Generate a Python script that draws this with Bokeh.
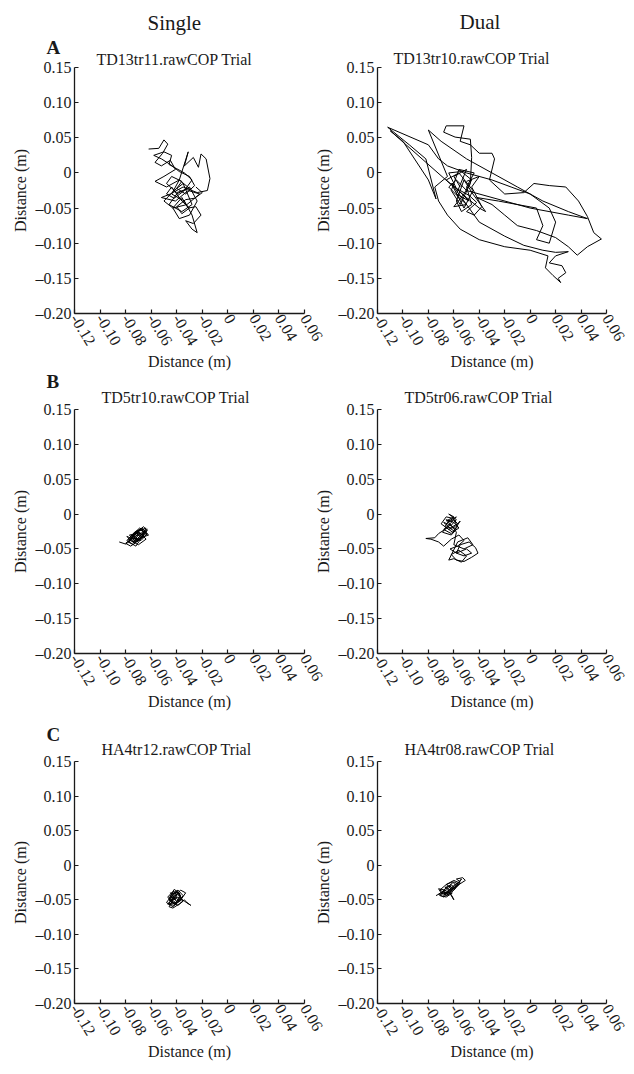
from bokeh.plotting import figure
from bokeh.models import Range1d, FixedTicker, Title
from bokeh.layouts import column, row
from bokeh.embed import file_html
from bokeh.resources import INLINE

FONT = "Liberation Serif"
INK = "#1a1a1a"

# ---------------- data ----------------
x_ticks = [-0.12, -0.10, -0.08, -0.06, -0.04, -0.02, 0.0, 0.02, 0.04, 0.06]
x_tick_labels = ["-0.12", "-0.10", "-0.08", "-0.06", "-0.04", "-0.02", "0", "0.02", "0.04", "0.06"]
y_ticks = [-0.20, -0.15, -0.10, -0.05, 0.0, 0.05, 0.10, 0.15]
y_tick_labels = ["–0.20", "–0.15", "–0.10", "–0.05", "0", "0.05", "0.10", "0.15"]
x_range_limits = [-0.12, 0.06]
y_range_limits = [-0.20, 0.15]

column_headers = ["Single", "Dual"]
row_letters = ["A", "B", "C"]
trial_titles = [
    ["TD13tr11.rawCOP Trial", "TD13tr10.rawCOP Trial"],
    ["TD5tr10.rawCOP Trial", "TD5tr06.rawCOP Trial"],
    ["HA4tr12.rawCOP Trial", "HA4tr08.rawCOP Trial"],
]
axis_title = "Distance (m)"

# Row A, single task (TD13tr11)
a_single_x = [-0.062, -0.054, -0.050, -0.047, -0.051, -0.057, -0.052, -0.045, -0.041, -0.050,
              -0.057, -0.048, -0.038, -0.031, -0.034, -0.027, -0.023, -0.021, -0.017, -0.014,
              -0.016, -0.024, -0.035, -0.045, -0.052, -0.041, -0.031, -0.022, -0.032, -0.043,
              -0.050, -0.042, -0.035, -0.028, -0.036, -0.046, -0.040, -0.030, -0.024, -0.030,
              -0.038, -0.043, -0.036, -0.031, -0.025, -0.021, -0.027, -0.033, -0.028, -0.024,
              -0.028, -0.034, -0.044, -0.038, -0.030,
              -0.040, -0.048, -0.044, -0.036, -0.040, -0.033, -0.026, -0.030, -0.038, -0.045,
              -0.052, -0.058, -0.050, -0.044, -0.046, -0.040, -0.034, -0.028, -0.034, -0.042,
              -0.048, -0.044, -0.036, -0.030, -0.036, -0.040, -0.033, -0.026, -0.020, -0.025]
a_single_y = [0.034, 0.035, 0.047, 0.041, 0.028, 0.015, 0.010, 0.018, 0.005, -0.005,
              -0.012, -0.020, -0.010, 0.030, 0.010, 0.022, 0.008, 0.027, 0.020, -0.008,
              -0.025, -0.028, -0.020, -0.030, -0.035, -0.040, -0.025, -0.030, -0.045, -0.050,
              -0.040, -0.025, -0.015, -0.045, -0.055, -0.045, -0.030, -0.020, -0.040, -0.060,
              -0.065, -0.050, -0.035, -0.050, -0.048, -0.060, -0.072, -0.068, -0.080, -0.085,
              -0.060, -0.040, -0.030, -0.010, -0.022,
              -0.028, -0.015, -0.005, -0.012, -0.022, -0.030, -0.018, -0.005, 0.002, 0.012,
              0.020, 0.025, 0.030, 0.025, 0.012, 0.006, 0.000, -0.010, -0.025, -0.036,
              -0.030, -0.020, -0.040, -0.050, -0.058, -0.048, -0.038, -0.036, -0.028, -0.020]

# Row A, dual task (TD13tr10)
a_dual_x = [-0.055, -0.060, -0.050, -0.058, -0.048, -0.062, -0.052, -0.045, -0.056, -0.066, -0.050, -0.040,
            -0.035, -0.045, -0.052, -0.058, -0.054, -0.046, -0.050, -0.044, -0.056, -0.062, -0.055, -0.047,
            -0.046, -0.047, -0.059, -0.068, -0.066, -0.052, -0.055, -0.047, -0.040, -0.030, -0.028, -0.032,
            -0.020, -0.005, 0.003, 0.015, 0.028, 0.038, 0.045, 0.050, 0.056, 0.045, 0.037, 0.030, 0.020,
            0.005, -0.010, -0.020, -0.030, -0.042,
            -0.025, -0.010, 0.005, 0.010, 0.005, 0.015, 0.020, 0.015, 0.000, -0.015, -0.030,
            -0.050, -0.065, -0.072, -0.080, -0.112, -0.095, -0.082, -0.074, -0.080, -0.100, -0.110, -0.085,
            -0.060, -0.040, -0.020, -0.005,
            0.010, 0.020, 0.030, 0.020, 0.015, 0.025, 0.028, 0.022, 0.024, 0.018, 0.012, 0.014, 0.000,
            -0.020, -0.040, -0.055, -0.065, -0.072,
            -0.075, -0.065, -0.080, -0.070, -0.050, -0.030, -0.010, 0.010, 0.030, 0.045, 0.030, 0.000,
            -0.030, -0.050,
            -0.058, -0.064, -0.056, -0.050, -0.060, -0.052, -0.046, -0.054, -0.064, -0.058, -0.048, -0.042,
            -0.050, -0.044, -0.038, -0.046, -0.040, -0.050]
a_dual_y = [-0.020, -0.005, 0.005, -0.030, -0.040, -0.015, -0.050, -0.025, 0.000, -0.010, -0.035, -0.050,
            -0.055, -0.030, -0.010, -0.040, -0.055, -0.045, -0.020, 0.000, 0.005, -0.025, -0.045, -0.015,
            0.022, 0.048, 0.051, 0.058, 0.067, 0.067, 0.045, 0.040, 0.028, 0.028, 0.020, -0.010,
            -0.030, -0.028, -0.015, -0.018, -0.020, -0.040, -0.062, -0.085, -0.094, -0.105, -0.117, -0.105, -0.092,
            -0.082, -0.075, -0.060, -0.045, -0.035,
            -0.040, -0.045, -0.050, -0.075, -0.095, -0.100, -0.070, -0.050, -0.030, -0.020, -0.010,
            0.000, 0.010, 0.020, 0.040, 0.065, 0.040, 0.020, -0.037, -0.010, 0.045, 0.060, 0.020,
            -0.020, -0.070, -0.090, -0.103,
            -0.110, -0.113, -0.112, -0.118, -0.128, -0.132, -0.142, -0.150, -0.156, -0.146, -0.135, -0.118, -0.110,
            -0.105, -0.095, -0.080, -0.060, -0.040,
            -0.020, -0.005, 0.061, 0.045, 0.020, 0.000, -0.020, -0.040, -0.055, -0.065, -0.060, -0.050,
            -0.035, -0.025,
            -0.010, -0.020, -0.035, -0.045, -0.048, -0.030, -0.010, 0.002, 0.000, -0.022, -0.032, -0.042,
            -0.055, -0.060, -0.048, -0.020, -0.005, -0.012]

# Row B, single task (TD5tr10)
b_single_x = [-0.085, -0.080, -0.076, -0.079, -0.074, -0.070, -0.077, -0.072, -0.066, -0.071,
              -0.075, -0.068, -0.063, -0.067, -0.073, -0.078, -0.070, -0.064, -0.069, -0.075,
              -0.071, -0.065, -0.062, -0.068, -0.074, -0.079, -0.072, -0.066, -0.070, -0.076,
              -0.069, -0.064, -0.067, -0.073, -0.077, -0.071, -0.066, -0.063, -0.069, -0.074,
              -0.078, -0.073, -0.068, -0.065, -0.070, -0.076, -0.080, -0.075, -0.070, -0.066,
              -0.072, -0.068, -0.074, -0.070, -0.065, -0.069, -0.075, -0.071, -0.067, -0.063,
              -0.068, -0.073, -0.077, -0.072, -0.068, -0.064, -0.069, -0.074, -0.071, -0.067]
b_single_y = [-0.040, -0.043, -0.038, -0.032, -0.036, -0.028, -0.030, -0.040, -0.032, -0.024,
              -0.034, -0.038, -0.028, -0.020, -0.026, -0.036, -0.044, -0.036, -0.026, -0.030,
              -0.038, -0.032, -0.030, -0.022, -0.028, -0.038, -0.046, -0.030, -0.030, -0.034,
              -0.024, -0.020, -0.032, -0.042, -0.036, -0.026, -0.018, -0.024, -0.034, -0.044,
              -0.040, -0.030, -0.022, -0.028, -0.038, -0.046, -0.042, -0.034, -0.036, -0.030,
              -0.026, -0.034, -0.040, -0.030, -0.024, -0.020, -0.030, -0.036, -0.028, -0.022,
              -0.030, -0.040, -0.034, -0.026, -0.034, -0.028, -0.022, -0.032, -0.040, -0.032]

# Row B, dual task (TD5tr06)
b_dual_x = [-0.066, -0.060, -0.064, -0.058, -0.062, -0.068, -0.063, -0.057, -0.061, -0.066,
            -0.070, -0.064, -0.059, -0.055, -0.060, -0.065, -0.069, -0.062, -0.058, -0.063,
            -0.067, -0.072, -0.075, -0.082, -0.078, -0.072, -0.068, -0.062, -0.056, -0.052,
            -0.057, -0.063, -0.058, -0.050, -0.046, -0.052, -0.058, -0.055, -0.048, -0.043,
            -0.041, -0.046, -0.052, -0.058, -0.062, -0.056, -0.050, -0.054, -0.060, -0.064,
            -0.057, -0.049, -0.045, -0.052, -0.060, -0.058,
            -0.062, -0.066, -0.060, -0.056, -0.061, -0.067, -0.064, -0.058, -0.063, -0.068,
            -0.062, -0.057, -0.060, -0.065]
b_dual_y = [-0.010, -0.004, 0.000, -0.008, -0.016, -0.012, -0.020, -0.014, -0.006, -0.004,
            -0.014, -0.022, -0.018, -0.010, -0.024, -0.018, -0.026, -0.030, -0.022, -0.016,
            -0.022, -0.028, -0.034, -0.035, -0.036, -0.040, -0.046, -0.036, -0.030, -0.038,
            -0.046, -0.050, -0.056, -0.050, -0.056, -0.060, -0.056, -0.044, -0.040, -0.048,
            -0.056, -0.062, -0.068, -0.066, -0.058, -0.052, -0.060, -0.069, -0.064, -0.066,
            -0.040, -0.034, -0.044, -0.050, -0.044, -0.026,
            -0.016, -0.008, -0.012, -0.020, -0.026, -0.018, -0.010, -0.004, -0.014, -0.022,
            -0.028, -0.018, -0.008, -0.012]

# Row C, single task (HA4tr12)
c_single_x = [-0.046, -0.042, -0.045, -0.040, -0.043, -0.047, -0.041, -0.037, -0.040, -0.044,
              -0.048, -0.043, -0.038, -0.035, -0.039, -0.044, -0.046, -0.041, -0.036, -0.038,
              -0.042, -0.045, -0.040, -0.036, -0.033, -0.037, -0.041, -0.046, -0.043, -0.038,
              -0.034, -0.032, -0.029, -0.034, -0.039, -0.044, -0.047, -0.042, -0.037, -0.040,
              -0.044, -0.041,
              -0.040, -0.045, -0.041, -0.036, -0.039, -0.043, -0.047, -0.044, -0.039, -0.035,
              -0.038, -0.042, -0.046, -0.042, -0.038, -0.041]
c_single_y = [-0.052, -0.046, -0.040, -0.042, -0.050, -0.056, -0.054, -0.046, -0.038, -0.044,
              -0.054, -0.060, -0.052, -0.044, -0.036, -0.042, -0.048, -0.056, -0.050, -0.040,
              -0.035, -0.045, -0.052, -0.048, -0.040, -0.036, -0.044, -0.060, -0.062, -0.056,
              -0.050, -0.054, -0.058, -0.052, -0.046, -0.050, -0.056, -0.058, -0.044, -0.038,
              -0.046, -0.050,
              -0.042, -0.048, -0.054, -0.048, -0.040, -0.038, -0.046, -0.054, -0.058, -0.052,
              -0.044, -0.040, -0.050, -0.056, -0.052, -0.046]

# Row C, dual task (HA4tr08)
c_dual_x = [-0.074, -0.070, -0.072, -0.067, -0.070, -0.065, -0.062, -0.066, -0.061, -0.058,
            -0.063, -0.068, -0.064, -0.059, -0.055, -0.058, -0.053, -0.051, -0.056, -0.060,
            -0.064, -0.069, -0.072, -0.068, -0.063, -0.061, -0.060, -0.064, -0.059, -0.055,
            -0.060, -0.066, -0.071, -0.067, -0.062, -0.057, -0.054, -0.058, -0.063, -0.067,
            -0.062, -0.066, -0.070, -0.065, -0.060, -0.056, -0.060, -0.065, -0.069, -0.064,
            -0.059, -0.062, -0.067, -0.071, -0.066, -0.061]
c_dual_y = [-0.044, -0.040, -0.034, -0.036, -0.042, -0.040, -0.032, -0.028, -0.024, -0.030,
            -0.038, -0.044, -0.036, -0.028, -0.024, -0.020, -0.018, -0.022, -0.028, -0.034,
            -0.040, -0.038, -0.042, -0.046, -0.040, -0.046, -0.050, -0.038, -0.032, -0.026,
            -0.022, -0.028, -0.036, -0.040, -0.034, -0.026, -0.020, -0.030, -0.036, -0.032,
            -0.030, -0.036, -0.040, -0.044, -0.036, -0.028, -0.024, -0.032, -0.038, -0.042,
            -0.034, -0.028, -0.034, -0.044, -0.046, -0.040]

traces = [
    [(a_single_x, a_single_y), (a_dual_x, a_dual_y)],
    [(b_single_x, b_single_y), (b_dual_x, b_dual_y)],
    [(c_single_x, c_single_y), (c_dual_x, c_dual_y)],
]

# ---------------- layout (pixels) ----------------
# Bokeh's page template removes the body margin, so the layout itself is
# shifted 8px right; the first row starts at the very top of the page.
geom = [
    [dict(fw=234, fh=250, top=63, bottom=59, right=23), dict(fw=233, fh=246, top=67, bottom=59, right=23)],
    [dict(fw=234, fh=247, top=34, bottom=60, right=23), dict(fw=233, fh=245, top=37, bottom=59, right=23)],
    [dict(fw=234, fh=246, top=44, bottom=62, right=23), dict(fw=233, fh=244, top=48, bottom=60, right=23)],
]
LEFT_BORDER = 62
RIGHT_COL_SHIFT = -16
title_offsets = [[22, 16], [27, 27], [27, 27]]
title_standoffs = [[0, 2], [8, 8], [8, 8]]
letter_standoffs = [-18, -18, -20]
header_offsets = [73, 82]
header_standoffs = [12.8, 19.9]


def style_axis(ax):
    ax.axis_line_color = INK
    ax.axis_line_width = 1.3
    ax.major_tick_line_color = INK
    ax.major_tick_line_width = 1.2
    ax.major_tick_in = 4
    ax.major_tick_out = 0
    ax.minor_tick_line_color = None
    ax.major_label_text_font = FONT
    ax.major_label_text_font_size = "16px"
    ax.major_label_text_color = INK
    ax.axis_label_text_font = FONT
    ax.axis_label_text_font_size = "16px"
    ax.axis_label_text_font_style = "normal"
    ax.axis_label_text_color = INK


def panel(r, c):
    g = geom[r][c]
    xs, ys = traces[r][c]
    p = figure(width=LEFT_BORDER + g["fw"] + g["right"], height=g["top"] + g["fh"] + g["bottom"],
               x_range=Range1d(*x_range_limits), y_range=Range1d(*y_range_limits),
               output_backend="svg", toolbar_location=None, title=None,
               min_border_left=LEFT_BORDER, min_border_right=g["right"],
               min_border_top=g["top"], min_border_bottom=g["bottom"],
               outline_line_color=None, background_fill_color="white",
               border_fill_color="white")
    if c == 1:
        p.margin = (0, 0, 0, RIGHT_COL_SHIFT)
        p.border_fill_alpha = 0.0
    p.grid.visible = False
    p.xaxis.ticker = FixedTicker(ticks=x_ticks)
    p.yaxis.ticker = FixedTicker(ticks=y_ticks)
    p.xaxis.major_label_overrides = dict(zip(x_ticks, x_tick_labels))
    p.yaxis.major_label_overrides = dict(zip(y_ticks, y_tick_labels))
    p.xaxis.major_label_orientation = -1.02
    p.xaxis.axis_label = axis_title
    p.yaxis.axis_label = axis_title
    style_axis(p.xaxis[0])
    style_axis(p.yaxis[0])
    p.xaxis.major_label_standoff = 2
    p.xaxis.axis_label_standoff = 0
    p.yaxis.major_label_standoff = 3
    p.yaxis.axis_label_standoff = 4

    p.add_layout(Title(text=trial_titles[r][c], align="left", offset=title_offsets[r][c],
                       standoff=title_standoffs[r][c], text_font=FONT, text_font_size="16px",
                       text_font_style="normal", text_color=INK), "above")
    if c == 0:
        p.add_layout(Title(text=row_letters[r], align="left", offset=-28,
                           standoff=letter_standoffs[r], text_font=FONT, text_font_size="19px",
                           text_font_style="bold", text_color=INK), "above")
    if r == 0:
        p.add_layout(Title(text=column_headers[c], align="left", offset=header_offsets[c],
                           standoff=header_standoffs[c], vertical_align="top",
                           text_font=FONT, text_font_size="21px",
                           text_font_style="normal", text_color=INK), "above")

    p.line(xs, ys, line_color="black", line_width=1.0)
    return p


layout = column(*[row(panel(r, 0), panel(r, 1)) for r in range(3)], margin=(0, 0, 0, 8))
open("out.html", "w").write(file_html(layout, INLINE))
